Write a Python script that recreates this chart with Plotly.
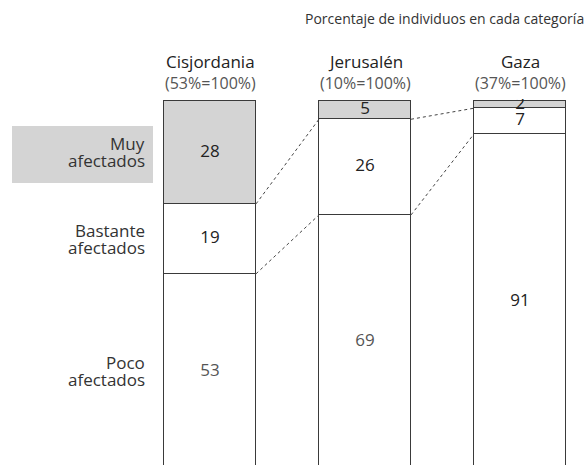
import plotly.graph_objects as go

regions = ["Cisjordania", "Jerusalén", "Gaza"]
region_share = ["(53%=100%)", "(10%=100%)", "(37%=100%)"]
levels = [("Poco", "afectados"), ("Bastante", "afectados"), ("Muy", "afectados")]

poco = [53, 69, 91]
bastante = [19, 26, 7]
muy = [28, 5, 2]

fills = ["white", "white", "#d4d4d4"]
font = "Open Sans"

xs = [0, 1, 2]
bar_w = 0.594
px_per = 3.68          # pixels per percentage point
top_px = 99
H = 465
plot_h = H - top_px
y_max = 100.5
y_min = y_max - plot_h / px_per

fig = go.Figure()

series = [poco, bastante, muy]
for vals, col in zip(series, fills):
    fig.add_trace(go.Bar(x=xs, y=vals, width=bar_w, marker_color=col,
                         marker_line=dict(color="#3a3a3a", width=1.5),
                         showlegend=False, hoverinfo="skip"))

# cumulative boundaries
base = [[0, 0, 0]]
for vals in series:
    base.append([b + v for b, v in zip(base[-1], vals)])

# value labels at segment centres
for k, vals in enumerate(series):
    mids = [base[k][i] + vals[i] / 2 for i in range(3)]
    colors = ["#555555" if k == 0 and i < 2 else "#222222" for i in range(3)]
    fig.add_trace(go.Scatter(x=xs, y=mids, mode="text", text=[str(v) for v in vals],
                             textfont=dict(family=font, size=17, color=colors),
                             showlegend=False, hoverinfo="skip"))

# dotted connectors between neighbouring bars
for i in range(2):
    for k in (1, 2):
        fig.add_trace(go.Scatter(x=[xs[i] + bar_w / 2, xs[i + 1] - bar_w / 2],
                                 y=[base[k][i], base[k][i + 1]], mode="lines",
                                 line=dict(color="#444444", width=1, dash="dot"),
                                 showlegend=False, hoverinfo="skip"))

def py(p):
    return (H - p) / plot_h

annotations = []
for i, (r, s) in enumerate(zip(regions, region_share)):
    annotations.append(dict(x=xs[i], xref="x", y=py(61), yref="paper", text=r,
                            yanchor="middle", showarrow=False,
                            font=dict(family=font, size=17, color="#222222")))
    annotations.append(dict(x=xs[i], xref="x", y=py(83), yref="paper", text=s,
                            yanchor="middle", showarrow=False,
                            font=dict(family=font, size=16, color="#555555")))

for k, (l1, l2) in enumerate(levels):
    mid = base[k][0] + series[k][0] / 2
    for txt, shift in ((l1, 8.5), (l2, -8.5)):
        annotations.append(dict(x=147 / 588, xref="paper", y=mid, yref="y", text=txt,
                                xanchor="right", yanchor="middle", yshift=shift,
                                showarrow=False,
                                font=dict(family=font, size=17, color="#333333")))

annotations.append(dict(x=586 / 588, xref="paper", y=py(19), yref="paper",
                        text="Porcentaje de individuos en cada categoría",
                        xanchor="right", yanchor="middle", showarrow=False,
                        font=dict(family=font, size=14, color="#333333")))

fig.update_layout(
    width=588, height=465,
    margin=dict(l=0, r=0, t=top_px, b=0),
    barmode="stack", bargap=0,
    plot_bgcolor="white", paper_bgcolor="white",
    xaxis=dict(range=[-210 / 155, (588 - 210) / 155], visible=False),
    yaxis=dict(range=[y_min, y_max], visible=False),
    annotations=annotations,
    shapes=[dict(type="rect", xref="paper", yref="y", x0=12 / 588, x1=153 / 588,
                 y0=y_max - (183 - top_px) / px_per, y1=y_max - (126 - top_px) / px_per,
                 fillcolor="#d4d4d4", line_width=0, layer="below")],
)

fig.write_html("out.html", config={"displayModeBar": False},
               post_script="document.body.style.margin='0';")
